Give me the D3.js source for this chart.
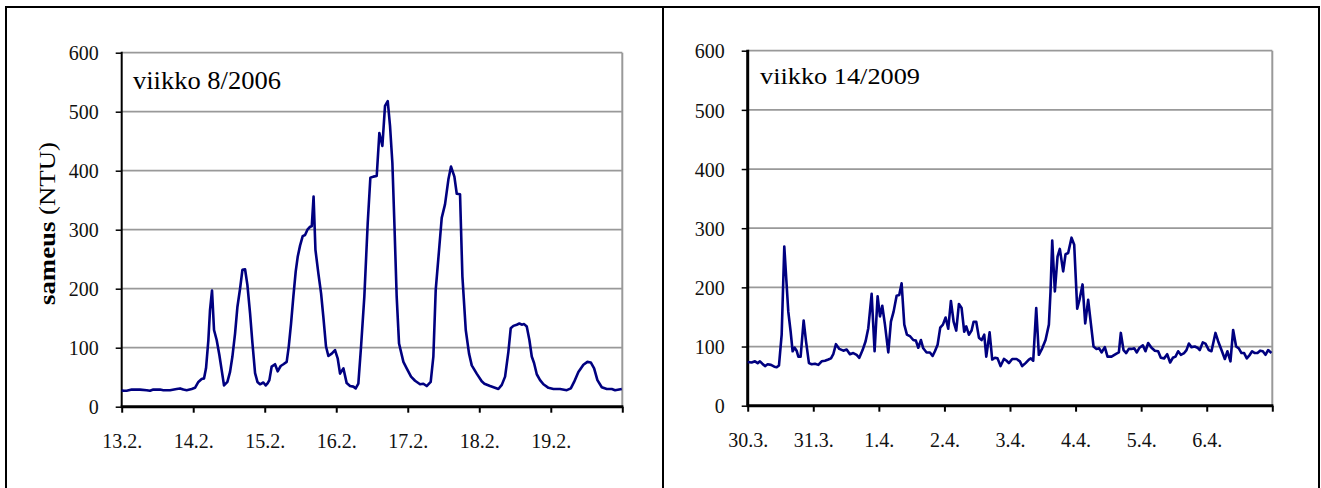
<!DOCTYPE html>
<html>
<head>
<meta charset="utf-8">
<script src="https://cdn.jsdelivr.net/npm/d3@7"></script>
<style>
  html, body { margin: 0; padding: 0; background: #fff; }
  svg { display: block; }
  text { font-family: "Liberation Serif", "Times New Roman", serif; }
</style>
</head>
<body>
<svg id="chart" width="1321" height="488"></svg>
<script>
// ---------- DATA ----------
const yTicks = [0, 100, 200, 300, 400, 500, 600];

const leftTitle = "viikko 8/2006";
const leftTickLabels = ["13.2.", "14.2.", "15.2.", "16.2.", "17.2.", "18.2.", "19.2."];
// time in days since 13.2. 00:00
const leftDays = [0.000,0.023,0.070,0.140,0.256,0.349,0.396,0.442,0.536,0.582,0.676,0.769,0.816,0.862,0.909,0.979,
  1.025,1.072,1.118,1.151,1.179,1.212,1.235,1.263,1.291,1.328,1.365,1.398,1.431,1.478,1.515,1.548,1.585,1.618,1.655,
  1.688,1.725,1.758,1.795,1.828,1.865,1.898,1.934,1.981,2.014,2.042,2.065,2.097,2.144,2.181,2.223,2.261,2.307,2.335,
  2.368,2.400,2.433,2.461,2.494,2.531,2.564,2.597,2.635,2.658,2.683,2.709,2.750,2.788,2.820,2.857,2.890,2.937,2.983,
  3.020,3.053,3.100,3.146,3.193,3.239,3.272,3.309,3.347,3.393,3.440,3.477,3.519,3.566,3.603,3.645,3.682,3.720,3.752,
  3.785,3.813,3.845,3.878,3.939,3.985,4.046,4.102,4.172,4.218,4.265,4.321,4.358,4.391,4.438,4.475,4.521,4.568,4.605,
  4.652,4.685,4.731,4.764,4.811,4.857,4.895,4.964,5.034,5.072,5.151,5.267,5.315,5.361,5.407,5.440,5.477,5.524,5.561,
  5.594,5.627,5.664,5.701,5.734,5.766,5.804,5.850,5.897,5.967,6.037,6.130,6.224,6.280,6.326,6.386,6.456,6.512,6.559,
  6.606,6.652,6.713,6.783,6.853,6.899,6.993];
const leftValues = [28,27,27,29,29,28,27,29,29,28,28,30,31,29,28,30,
  32,42,47,48,65,113,164,197,130,113,88,62,36,42,59,85,124,169,200,
  232,233,206,158,108,57,42,38,41,36,40,45,68,72,60,69,72,76,101,
  141,186,229,254,273,289,291,300,305,306,356,266,226,192,152,102,86,90,96,
  82,56,65,40,35,34,31,39,102,187,311,388,390,391,464,442,510,518,476,
  413,311,187,107,76,65,51,44,38,39,35,42,85,198,266,320,343,385,407,
  390,361,360,221,130,90,70,56,43,39,35,30,37,51,93,133,137,139,141,
  139,140,136,113,85,74,55,45,38,32,30,30,28,31,42,59,71,76,75,
  65,45,33,30,30,28,30];

const rightTitle = "viikko 14/2009";
const rightTickLabels = ["30.3.", "31.3.", "1.4.", "2.4.", "3.4.", "4.4.", "5.4.", "6.4."];
// time in days since 30.3. 00:00
const rightDays = [0.000,0.060,0.111,0.152,0.187,0.223,0.264,0.304,0.355,0.406,0.442,0.477,0.518,0.558,0.594,0.619,
  0.655,0.685,0.716,0.746,0.772,0.807,0.853,0.889,0.934,0.975,1.026,1.077,1.128,1.178,1.229,1.270,1.305,1.346,1.397,
  1.458,1.509,1.559,1.610,1.661,1.702,1.752,1.798,1.839,1.890,1.935,1.981,2.017,2.052,2.093,2.144,2.184,2.225,2.271,
  2.311,2.347,2.388,2.428,2.479,2.525,2.565,2.601,2.642,2.677,2.728,2.779,2.820,2.855,2.896,2.936,2.977,3.018,3.058,
  3.099,3.140,3.180,3.221,3.262,3.302,3.333,3.373,3.414,3.445,3.485,3.526,3.567,3.607,3.638,3.689,3.729,3.770,3.810,
  3.856,3.907,3.948,3.983,4.034,4.100,4.151,4.186,4.237,4.288,4.318,4.354,4.400,4.440,4.491,4.542,4.593,4.618,4.644,
  4.684,4.725,4.760,4.811,4.847,4.887,4.938,4.979,5.025,5.060,5.106,5.147,5.192,5.233,5.274,5.319,5.360,5.396,5.446,
  5.487,5.548,5.624,5.660,5.690,5.731,5.772,5.812,5.853,5.894,5.934,5.975,6.026,6.066,6.107,6.158,6.209,6.259,6.300,
  6.351,6.397,6.442,6.483,6.524,6.564,6.605,6.656,6.691,6.727,6.767,6.818,6.859,6.894,6.940,6.981,7.032,7.072,7.133,
  7.174,7.225,7.276,7.316,7.362,7.403,7.448,7.489,7.530,7.570,7.611,7.657,7.692,7.733,7.774,7.814,7.855,7.896,7.936,
  7.987];
const rightValues = [74,73,75,72,75,71,67,70,69,66,65,68,120,269,204,159,
  125,92,98,93,83,83,144,109,72,70,71,69,75,76,78,80,87,104,96,
  93,95,87,89,86,81,94,109,131,189,92,185,151,169,137,90,142,159,186,
  187,207,137,120,117,111,110,98,111,97,90,90,84,92,103,132,137,149,130,
  177,142,127,172,165,125,134,120,127,142,142,115,111,120,83,124,78,81,80,
  67,79,76,72,79,79,75,67,72,78,80,76,165,86,97,111,137,193,279,
  193,252,265,227,256,258,284,272,164,179,205,139,179,139,100,96,97,90,99,
  83,83,88,90,123,94,89,96,96,97,90,98,102,92,106,98,93,92,81,
  80,87,73,81,83,92,86,89,94,105,99,100,98,94,107,105,94,92,123,
  109,94,79,92,75,128,100,97,89,89,80,86,92,89,89,93,92,86,94,
  89];

// ---------- DRAWING ----------
const svg = d3.select("#chart");
svg.append("rect").attr("width", 1321).attr("height", 488).attr("fill", "#fff");

// outer frame
const frame = svg.append("g").attr("stroke", "#000").attr("stroke-width", 2).attr("fill", "none");
frame.append("line").attr("x1", 6).attr("x2", 1319).attr("y1", 7).attr("y2", 7);
frame.append("line").attr("x1", 6).attr("x2", 6).attr("y1", 6).attr("y2", 488);
frame.append("line").attr("x1", 663).attr("x2", 663).attr("y1", 6).attr("y2", 488);
frame.append("line").attr("x1", 1319).attr("x2", 1319).attr("y1", 6).attr("y2", 488);

function panel(cfg) {
  const { x0, x1, y0, y1, days, values, nDays, labels, title, tx, ty, tsize, tlen, axisW } = cfg;
  const x = d3.scaleLinear().domain([0, nDays]).range([x0, x1]);
  const y = d3.scaleLinear().domain([0, 600]).range([y1, y0]);
  const g = svg.append("g");

  // gridlines
  g.append("g").selectAll("line").data(yTicks.filter(d => d > 0)).join("line")
    .attr("x1", x0).attr("x2", x1)
    .attr("y1", d => y(d)).attr("y2", d => y(d))
    .attr("stroke", "#999").attr("stroke-width", 1.8);
  // right plot border
  g.append("line").attr("x1", x1).attr("x2", x1).attr("y1", y0).attr("y2", y1)
    .attr("stroke", "#999").attr("stroke-width", 2);

  // y axis
  const ya = g.append("g").attr("transform", `translate(${x0},0)`)
    .call(d3.axisLeft(y).tickValues(yTicks).tickSize(6).tickFormat(d3.format("d")));
  ya.select(".domain").remove();
  ya.selectAll(".tick line").attr("stroke", "#000").attr("stroke-width", 1.5);
  ya.selectAll(".tick text").attr("x", -23).attr("dy", "0.36em")
    .attr("font-size", 20).attr("fill", "#111")
    .style("font-family", '"Liberation Serif", "Times New Roman", serif');
  g.append("line").attr("x1", x0).attr("x2", x0).attr("y1", y0 - 1).attr("y2", y1)
    .attr("stroke", "#000").attr("stroke-width", axisW);

  // x axis
  const xa = g.append("g").attr("transform", `translate(0,${y1})`)
    .call(d3.axisBottom(x).tickValues(d3.range(0, nDays + 1)).tickSize(6)
      .tickFormat((d, i) => labels[i] || ""));
  xa.select(".domain").remove();
  xa.selectAll(".tick line").attr("stroke", "#000").attr("stroke-width", 2);
  xa.selectAll(".tick text").attr("y", 41.3).attr("dy", null)
    .attr("font-size", 20).attr("fill", "#111")
    .style("font-family", '"Liberation Serif", "Times New Roman", serif');
  g.append("line").attr("x1", x0 - 1).attr("x2", x1 + 1).attr("y1", y1).attr("y2", y1)
    .attr("stroke", "#000").attr("stroke-width", 3);

  // series
  const pts = days.map((d, i) => [d, values[i]]);
  g.append("path").datum(pts)
    .attr("fill", "none").attr("stroke", "#000080").attr("stroke-width", 2.6)
    .attr("stroke-linejoin", "round")
    .attr("d", d3.line().x(d => x(d[0])).y(d => y(d[1])));

  // annotation
  g.append("text").attr("x", tx).attr("y", ty).attr("font-size", tsize)
    .attr("textLength", tlen).attr("lengthAdjust", "spacingAndGlyphs")
    .attr("fill", "#000")
    .style("font-family", '"Liberation Serif", "Times New Roman", serif')
    .text(title);
}

panel({ x0: 121.7, x1: 622.3, y0: 52.7, y1: 406.7, days: leftDays, values: leftValues, nDays: 7,
  labels: leftTickLabels, title: leftTitle, tx: 133, ty: 89, tsize: 25, tlen: 148, axisW: 2 });
panel({ x0: 747.7, x1: 1272.3, y0: 50.7, y1: 405.7, days: rightDays, values: rightValues, nDays: 8,
  labels: rightTickLabels, title: rightTitle, tx: 760, ty: 84, tsize: 23, tlen: 160, axisW: 3 });

// y axis title (left panel)
const yt = svg.append("text")
  .attr("transform", "translate(55,223.5) rotate(-90)")
  .attr("text-anchor", "middle").attr("font-size", 23).attr("fill", "#000")
  .style("font-family", '"Liberation Serif", "Times New Roman", serif')
  .attr("textLength", 163).attr("lengthAdjust", "spacingAndGlyphs");
yt.append("tspan").attr("font-weight", "bold").text("sameus");
yt.append("tspan").text(" (NTU)");
</script>
</body>
</html>
